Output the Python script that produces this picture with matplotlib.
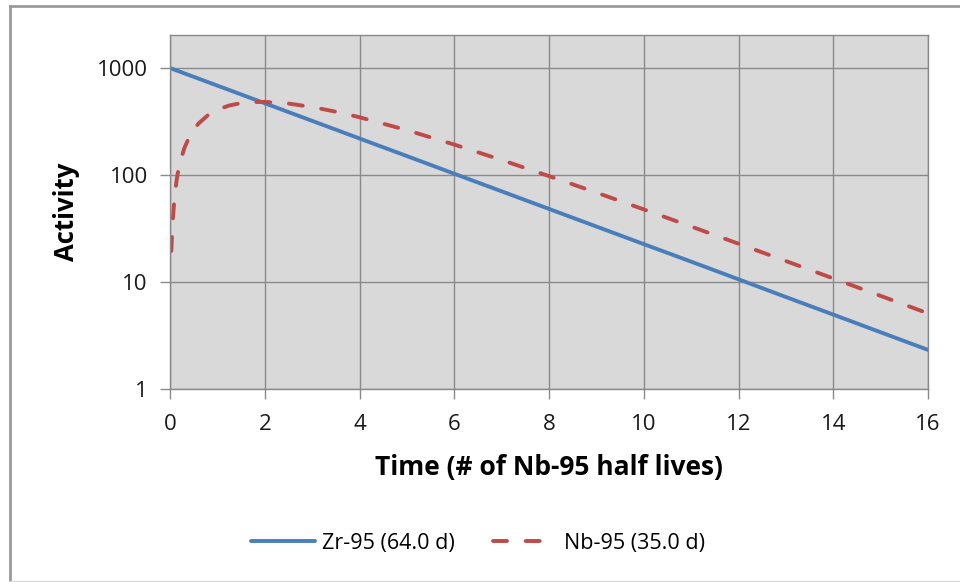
import matplotlib
matplotlib.use("Agg")
import matplotlib.pyplot as plt
from matplotlib.lines import Line2D

plt.rcParams['font.family'] = ['Open Sans', 'DejaVu Sans']

# Zr-95 parent activity
zr_t = [0, 1, 2, 3, 4, 5, 6, 7, 8, 9, 10, 11, 12, 13, 14, 15, 16]
zr_a = [1000, 684.5, 468.5, 320.7, 219.5, 150.3, 102.8, 70.4, 48.2, 33.0,
        22.6, 15.5, 10.6, 7.24, 4.96, 3.39, 2.32]

# Nb-95 daughter activity
nb_t = [0.0286, 0.05, 0.1, 0.15, 0.2, 0.3, 0.4, 0.5, 0.6, 0.8, 1.0, 1.25, 1.5,
        1.75, 2.0, 2.5, 3.0, 3.5, 4, 5, 6, 7, 8, 9, 10, 11, 12, 13, 14, 15, 16]
nb_a = [19.5, 33.7, 65.7, 96.0, 124.6, 177.1, 223.9, 265.4, 301.9, 362.1, 407.2,
        446.2, 469.6, 480.7, 482.3, 465.4, 431.9, 390.5, 346.5, 262.7, 192.5,
        138.1, 97.7, 68.5, 47.7, 33.0, 22.8, 15.7, 10.8, 7.42, 5.09]

x_ticks = [0, 2, 4, 6, 8, 10, 12, 14, 16]
y_ticks = [1, 10, 100, 1000]
y_labels = ["1", "10", "100", "1000"]

W, H = 960, 582
fig = plt.figure(figsize=(W / 100, H / 100), dpi=100)
fig.patch.set_facecolor("white")

def fx(px):
    return px / W

def fy(py):
    return 1 - py / H

# outer chart frame (top and left visible, faint bottom)
fig.add_artist(Line2D([fx(9.5), fx(960)], [fy(5.5), fy(5.5)], transform=fig.transFigure,
                      color="#9a9a9a", linewidth=2.0))
fig.add_artist(Line2D([fx(9.5), fx(9.5)], [fy(5.5), fy(582)], transform=fig.transFigure,
                      color="#9a9a9a", linewidth=2.0))
fig.add_artist(Line2D([fx(9.5), fx(960)], [fy(580.5), fy(580.5)], transform=fig.transFigure,
                      color="#dcdcdc", linewidth=1.0))

l, r, b, t = 170, 928, 389, 35
ax = fig.add_axes([l / W, 1 - b / H, (r - l) / W, (b - t) / H])
ax.set_facecolor("#d9d9d9")
ax.set_yscale("log")
ax.set_xlim(0, 16)
ax.set_ylim(1, 10 ** (3 + 33 / 107))
ax.set_xticks(x_ticks)
ax.set_xticklabels([str(v) for v in x_ticks])
ax.set_yticks(y_ticks)
ax.set_yticklabels(y_labels)
ax.yaxis.set_minor_locator(matplotlib.ticker.NullLocator())
ax.grid(True, color="#8a8a8a", linewidth=1.0)
ax.set_axisbelow(True)
for s in ax.spines.values():
    s.set_color("#8a8a8a")
    s.set_linewidth(1.0)
ax.tick_params(axis="both", which="major", direction="out", length=7, width=1,
               color="#8a8a8a", labelsize=16, labelcolor="#1a1a1a")
ax.tick_params(axis="y", pad=9)
ax.tick_params(axis="x", pad=11)

blue = "#4a7ebb"
red = "#be4b48"
dash = (3.6, 4.8)
ax.plot(zr_t, zr_a, color=blue, linewidth=2.8, solid_capstyle="round")
ax.plot(nb_t, nb_a, color=red, linewidth=2.8, dashes=dash, dash_capstyle="round")

ax.set_ylabel("Activity", fontsize=18.5, fontweight="bold", labelpad=12)
ax.set_xlabel("Time (# of Nb-95 half lives)", fontsize=19, fontweight="bold", labelpad=14)

handles = [Line2D([], [], color=blue, linewidth=2.8, solid_capstyle="round"),
           Line2D([], [], color=red, linewidth=2.8, dashes=dash, dash_capstyle="round")]
fig.legend(handles, ["Zr-95 (64.0 d)", "Nb-95 (35.0 d)"], loc="center",
           bbox_to_anchor=(478 / W, 1 - 543 / H), ncol=2, frameon=False,
           fontsize=15.5, handlelength=3.0, columnspacing=1.8, handletextpad=0.3,
           borderpad=0, borderaxespad=0)

fig.savefig("out.png", dpi=100)
